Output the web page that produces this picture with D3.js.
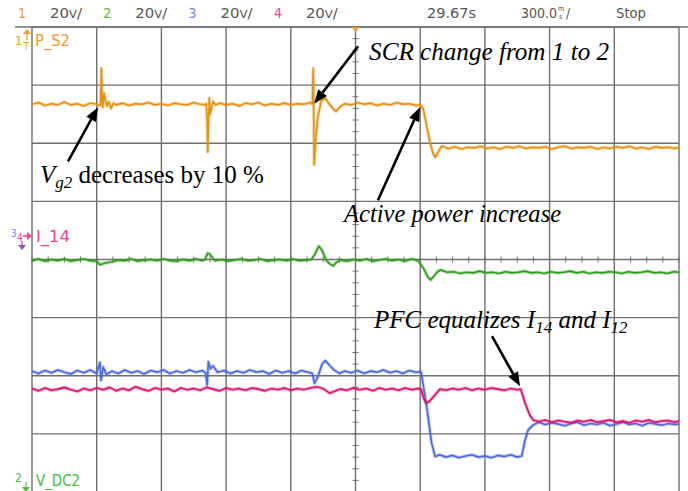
<!DOCTYPE html>
<html>
<head>
<meta charset="utf-8">
<script src="https://cdn.jsdelivr.net/npm/d3@7"></script>
<style>
  html, body { margin: 0; padding: 0; background: #fff; }
  svg { display: block; }
</style>
</head>
<body>
<div id="chart"></div>
<script>
// ---- Scope settings -------------------------------------------------------
const channelNumbers = ["1", "2", "3", "4"];
const channelScales  = ["20", "20", "20", "20"];       // V/div
const timeDivMs      = 300;                              // 300.0 ms/div
const triggerTimeLabel = "29.67s";
const runState       = "Stop";
const xDivisions     = 10;
const yDivisions     = 8;

// ---- Traces: [time ms, vertical position in divisions] ---------------------
// Channel 1, P_S2 (orange)
const pS2 = [
  [0,2.67],[30,2.70],[60,2.65],[90,2.68],[120,2.66],[150,2.71],[180,2.66],[210,2.68],[240,2.64],[270,2.69],
  [300,2.67],[310,2.65],[318,2.66],[322,3.29],[325,2.80],[328,2.62],[334,2.86],[340,2.74],[348,2.64],[356,2.72],
  [366,2.60],[378,2.69],[390,2.66],[420,2.69],[450,2.65],[480,2.68],[510,2.67],[540,2.70],[570,2.66],[600,2.68],
  [630,2.65],[660,2.69],[690,2.67],[720,2.66],[750,2.70],[780,2.67],[800,2.66],[808,2.68],[812,2.40],[815,1.85],
  [818,2.30],[822,2.78],[826,2.50],[832,2.60],[840,2.72],[850,2.66],[870,2.69],[900,2.66],[930,2.68],[960,2.64],
  [990,2.69],[1020,2.67],[1050,2.70],[1080,2.65],[1110,2.68],[1140,2.66],[1170,2.69],[1200,2.66],[1230,2.68],[1260,2.67],
  [1290,2.70],[1300,2.67],[1304,3.29],[1306,2.67],[1308,1.63],[1315,2.05],[1325,2.45],[1340,2.72],[1360,2.78],[1375,2.69],
  [1395,2.60],[1410,2.55],[1430,2.63],[1450,2.68],[1480,2.66],[1510,2.70],[1540,2.67],[1570,2.69],[1600,2.65],[1630,2.68],
  [1660,2.66],[1690,2.70],[1720,2.67],[1750,2.68],[1780,2.65],[1800,2.67],[1815,2.58],[1830,2.30],[1845,2.02],[1860,1.82],
  [1870,1.76],[1885,1.86],[1900,1.95],[1930,1.91],[1960,1.94],[1990,1.90],[2020,1.93],[2050,1.92],[2080,1.95],[2110,1.91],
  [2140,1.93],[2170,1.90],[2200,1.94],[2230,1.92],[2260,1.95],[2290,1.91],[2320,1.93],[2350,1.92],[2380,1.94],[2410,1.90],
  [2440,1.93],[2470,1.95],[2500,1.91],[2530,1.93],[2560,1.92],[2590,1.94],[2620,1.90],[2650,1.93],[2680,1.91],[2710,1.94],
  [2740,1.92],[2770,1.95],[2800,1.91],[2830,1.93],[2860,1.90],[2890,1.94],[2920,1.92],[2950,1.93],[2980,1.91],[3000,1.93]
];

// Channel 2, V_DC2 (green)
const vDc2 = [
  [0,-0.02],[30,0.01],[60,-0.03],[90,0.00],[120,-0.02],[150,0.01],[180,-0.03],[210,-0.01],[240,0.01],[270,-0.02],
  [300,-0.03],[315,-0.09],[340,-0.06],[371,-0.04],[400,-0.01],[430,-0.02],[460,0.01],[490,-0.03],[520,-0.01],[550,0.00],
  [580,-0.02],[610,0.01],[640,-0.02],[670,-0.03],[700,0.00],[730,-0.02],[760,0.01],[790,-0.02],[802,0.00],[815,0.11],
  [825,0.09],[835,0.04],[849,-0.02],[880,0.00],[910,-0.03],[940,-0.01],[970,0.01],[1000,-0.02],[1030,-0.01],[1060,0.01],
  [1090,-0.03],[1120,-0.01],[1150,0.00],[1180,-0.02],[1210,0.01],[1240,-0.02],[1270,-0.01],[1295,0.00],[1310,0.08],[1330,0.23],
  [1345,0.16],[1363,-0.01],[1380,-0.07],[1396,-0.11],[1412,-0.05],[1430,-0.01],[1460,-0.03],[1490,0.00],[1520,-0.02],[1550,0.01],
  [1580,-0.03],[1610,-0.01],[1640,0.01],[1670,-0.02],[1700,0.00],[1730,-0.03],[1760,0.01],[1790,-0.02],[1815,-0.15],[1835,-0.30],
  [1849,-0.35],[1865,-0.28],[1880,-0.21],[1895,-0.18],[1925,-0.22],[1955,-0.21],[1985,-0.24],[2015,-0.22],[2045,-0.23],[2075,-0.20],
  [2105,-0.23],[2135,-0.22],[2165,-0.24],[2195,-0.21],[2225,-0.23],[2255,-0.22],[2285,-0.20],[2315,-0.23],[2345,-0.22],[2375,-0.24],
  [2405,-0.21],[2435,-0.23],[2465,-0.22],[2495,-0.20],[2525,-0.23],[2555,-0.21],[2585,-0.24],[2615,-0.22],[2645,-0.23],[2675,-0.21],
  [2705,-0.22],[2735,-0.24],[2765,-0.21],[2795,-0.23],[2825,-0.22],[2855,-0.20],[2885,-0.23],[2915,-0.22],[2945,-0.24],[2975,-0.21],
  [3000,-0.22]
];

// Channel 3, I_12 (blue)
const i12 = [
  [0,-1.92],[30,-1.96],[60,-1.91],[90,-1.95],[120,-1.90],[150,-1.94],[180,-1.97],[210,-1.91],[240,-1.95],[270,-1.90],
  [300,-1.96],[315,-1.77],[320,-2.08],[330,-1.85],[345,-1.98],[370,-1.92],[400,-1.96],[430,-1.90],[460,-1.95],[490,-1.92],
  [520,-1.97],[550,-1.91],[580,-1.94],[610,-1.90],[640,-1.96],[670,-1.92],[700,-1.95],[730,-1.90],[760,-1.94],[790,-1.91],
  [805,-1.95],[812,-2.16],[818,-1.76],[828,-1.88],[840,-1.83],[860,-1.94],[890,-1.91],[920,-1.96],[950,-1.92],[980,-1.95],
  [1010,-1.90],[1040,-1.94],[1070,-1.92],[1100,-1.97],[1130,-1.91],[1160,-1.95],[1190,-1.92],[1220,-1.96],[1250,-1.91],[1280,-1.94],
  [1300,-1.96],[1310,-2.13],[1325,-2.02],[1345,-1.80],[1360,-1.74],[1380,-1.82],[1400,-1.90],[1425,-1.96],[1450,-1.92],[1480,-1.95],
  [1510,-1.91],[1540,-1.96],[1570,-1.92],[1600,-1.94],[1630,-1.90],[1660,-1.95],[1690,-1.92],[1720,-1.96],[1750,-1.91],[1780,-1.94],
  [1804,-1.93],[1830,-2.53],[1853,-3.16],[1869,-3.39],[1890,-3.36],[1920,-3.40],[1950,-3.37],[1980,-3.41],[2010,-3.38],[2040,-3.36],
  [2070,-3.40],[2100,-3.38],[2130,-3.41],[2160,-3.37],[2190,-3.39],[2220,-3.36],[2250,-3.40],[2271,-3.38],[2286,-3.11],[2301,-2.93],
  [2323,-2.85],[2350,-2.80],[2380,-2.84],[2410,-2.81],[2440,-2.83],[2470,-2.86],[2500,-2.82],[2530,-2.80],[2560,-2.85],[2590,-2.82],
  [2620,-2.84],[2650,-2.81],[2680,-2.86],[2710,-2.83],[2740,-2.80],[2770,-2.84],[2800,-2.82],[2830,-2.86],[2860,-2.81],[2890,-2.83],
  [2920,-2.85],[2950,-2.82],[2980,-2.84],[3000,-2.83]
];

// Channel 4, I_14 (pink)
const i14 = [
  [0,-2.22],[30,-2.26],[60,-2.21],[90,-2.25],[120,-2.23],[150,-2.20],[180,-2.24],[210,-2.27],[240,-2.22],[270,-2.25],
  [300,-2.21],[330,-2.24],[360,-2.20],[390,-2.26],[420,-2.22],[450,-2.25],[480,-2.19],[510,-2.23],[540,-2.26],[570,-2.21],
  [600,-2.24],[630,-2.22],[660,-2.27],[690,-2.21],[720,-2.24],[750,-2.22],[780,-2.25],[810,-2.20],[840,-2.23],[870,-2.26],
  [900,-2.21],[930,-2.24],[960,-2.22],[990,-2.25],[1020,-2.21],[1050,-2.23],[1080,-2.26],[1110,-2.22],[1140,-2.24],[1170,-2.21],
  [1200,-2.25],[1230,-2.22],[1260,-2.24],[1290,-2.21],[1320,-2.19],[1350,-2.22],[1380,-2.30],[1400,-2.27],[1430,-2.23],[1460,-2.25],
  [1490,-2.21],[1520,-2.24],[1550,-2.22],[1580,-2.26],[1610,-2.21],[1640,-2.24],[1670,-2.22],[1700,-2.25],[1730,-2.21],[1760,-2.24],
  [1790,-2.22],[1804,-2.23],[1815,-2.38],[1827,-2.47],[1840,-2.45],[1855,-2.39],[1875,-2.30],[1892,-2.23],[1920,-2.25],[1950,-2.22],
  [1980,-2.24],[2010,-2.21],[2040,-2.25],[2070,-2.22],[2100,-2.24],[2130,-2.21],[2160,-2.23],[2190,-2.25],[2220,-2.22],[2250,-2.24],
  [2266,-2.23],[2286,-2.47],[2309,-2.68],[2323,-2.76],[2350,-2.79],[2380,-2.76],[2410,-2.80],[2440,-2.77],[2470,-2.79],[2500,-2.81],
  [2530,-2.77],[2560,-2.79],[2590,-2.76],[2620,-2.80],[2650,-2.78],[2680,-2.76],[2710,-2.80],[2740,-2.78],[2770,-2.81],[2800,-2.77],
  [2830,-2.79],[2860,-2.76],[2890,-2.80],[2920,-2.78],[2950,-2.77],[2980,-2.80],[3000,-2.78]
];

// Annotations: arrow tip/tail and text anchor in [ms, div]
const annotations = [
  { tip: [306, 2.62],  tail: [167, 1.69],  text: [37, 1.32]    },
  { tip: [1308, 2.68], tail: [1512, 3.67], text: [1563, 3.43]  },
  { tip: [1799, 2.62], tail: [1604, 1.02], text: [1447, 0.645] },
  { tip: [2263, -2.18], tail: [2133, -1.32], text: [1586, -1.18] }
];

// ---- Layout -----------------------------------------------------------------
const W = 688, H = 491;
const plot = { left: 32, right: 679, top: 27, bottom: 492 };

const x = d3.scaleLinear().domain([0, timeDivMs * xDivisions]).range([plot.left, plot.right]);
const y = d3.scaleLinear().domain([-yDivisions / 2, yDivisions / 2]).range([plot.bottom, plot.top]);

const svg = d3.select("#chart").append("svg")
  .attr("width", W).attr("height", H)
  .attr("viewBox", `0 0 ${W} ${H}`);

svg.append("rect").attr("width", W).attr("height", H).attr("fill", "#fff");

const gridColor = "#6f6f6f";

// ---- Graticule --------------------------------------------------------------
const grid = svg.append("g");
grid.selectAll("line.v")
  .data(d3.range(0, xDivisions + 1).map(i => i * timeDivMs))
  .join("line")
  .attr("x1", d => x(d)).attr("x2", d => x(d))
  .attr("y1", plot.top).attr("y2", H)
  .attr("stroke", gridColor).attr("stroke-width", 1.4);

grid.selectAll("line.h")
  .data(d3.range(-yDivisions / 2, yDivisions / 2 + 1))
  .join("line")
  .attr("x1", plot.left).attr("x2", plot.right)
  .attr("y1", d => y(d)).attr("y2", d => y(d))
  .attr("stroke", gridColor).attr("stroke-width", 1.4);

// header separator reaches past the graticule on both sides
grid.append("line")
  .attr("x1", 15).attr("x2", W)
  .attr("y1", plot.top).attr("y2", plot.top)
  .attr("stroke", gridColor).attr("stroke-width", 1.4);

// minor ticks on the centre cross
const centreT = timeDivMs * xDivisions / 2;
grid.selectAll("line.ty")
  .data(d3.range(-yDivisions / 2 * 5, yDivisions / 2 * 5 + 1).map(k => k / 5))
  .join("line")
  .attr("x1", x(centreT) - 3).attr("x2", x(centreT) + 3)
  .attr("y1", d => y(d)).attr("y2", d => y(d))
  .attr("stroke", gridColor).attr("stroke-width", 1);
grid.selectAll("line.tx")
  .data(d3.range(0, xDivisions * 4 + 1).map(k => k * timeDivMs / 4))
  .join("line")
  .attr("x1", d => x(d)).attr("x2", d => x(d))
  .attr("y1", y(0) - 3).attr("y2", y(0) + 3)
  .attr("stroke", gridColor).attr("stroke-width", 1);

// ---- Traces -----------------------------------------------------------------
const line = d3.line().x(d => x(d[0])).y(d => y(d[1]));
const traces = [
  { data: pS2,  color: "#e8900f" },
  { data: vDc2, color: "#2f9e1c" },
  { data: i12,  color: "#4a68e2" },
  { data: i14,  color: "#e2106c" }
];
const tg = svg.append("g");
traces.forEach(t => {
  tg.append("path").attr("d", line(t.data))
    .attr("fill", "none").attr("stroke", t.color)
    .attr("stroke-width", 3.4).attr("stroke-opacity", 0.35)
    .attr("stroke-linejoin", "round");
  tg.append("path").attr("d", line(t.data))
    .attr("fill", "none").attr("stroke", t.color)
    .attr("stroke-width", 1.6).attr("stroke-linejoin", "round");
});

// ---- Header -----------------------------------------------------------------
const hdrFont = "'Liberation Sans Narrow','DejaVu Sans Condensed','Arial Narrow','Liberation Sans',sans-serif";
const chColors = ["#f29a2e", "#4cbc3a", "#6f86f0", "#f0409a"];
const hdr = svg.append("g").attr("font-family", hdrFont).attr("font-size", 14);
channelNumbers.forEach((c, i) => {
  const x0 = 15 + i * 85.3;
  hdr.append("text").attr("x", x0 + 3).attr("y", 18).attr("fill", chColors[i]).text(c);
  const t = hdr.append("text").attr("x", x0 + 35).attr("y", 18).attr("fill", "#555")
    .attr("textLength", 32).attr("lengthAdjust", "spacingAndGlyphs");
  t.append("tspan").text(channelScales[i]);
  t.append("tspan").attr("font-size", 11).text("V");
  t.append("tspan").text("/");
});
hdr.append("text").attr("x", 427).attr("y", 18).attr("fill", "#555")
  .attr("textLength", 49).attr("lengthAdjust", "spacingAndGlyphs").text(triggerTimeLabel);
// time base: value, stacked "m" over "s", slash
hdr.append("text").attr("x", 521).attr("y", 18).attr("fill", "#555")
  .attr("textLength", 36).attr("lengthAdjust", "spacingAndGlyphs")
  .text(d3.format(".1f")(timeDivMs));
hdr.append("text").attr("x", 558).attr("y", 11).attr("font-size", 7).attr("fill", "#555").text("m");
hdr.append("text").attr("x", 559).attr("y", 19).attr("font-size", 7).attr("fill", "#555").text("s");
hdr.append("text").attr("x", 566).attr("y", 18).attr("fill", "#555").text("/");
hdr.append("text").attr("x", 616).attr("y", 18).attr("fill", "#555")
  .attr("textLength", 30).attr("lengthAdjust", "spacingAndGlyphs").text(runState);

// ---- Channel markers & names ---------------------------------------------------
const mk = svg.append("g").attr("font-family", hdrFont);
// channel 1
mk.append("text").attr("x", 15).attr("y", 45).attr("font-size", 13).attr("fill", chColors[0]).text("1");
mk.append("path").attr("d", "M23,34 L27,29 L31,34 Z").attr("fill", chColors[0]);
mk.append("line").attr("x1", 27).attr("x2", 27).attr("y1", 34).attr("y2", 40).attr("stroke", chColors[0]).attr("stroke-width", 1.2);
mk.append("text").attr("x", 23.5).attr("y", 50).attr("font-size", 10).attr("fill", chColors[0]).text("T");
mk.append("text").attr("x", 35).attr("y", 46).attr("font-size", 15).attr("fill", chColors[0])
  .attr("textLength", 35).attr("lengthAdjust", "spacingAndGlyphs").text("P_S2");
// trigger marker on top edge
mk.append("path").attr("d", `M${x(centreT) - 4},${plot.top} L${x(centreT) + 4},${plot.top} L${x(centreT)},${plot.top + 5} Z`).attr("fill", chColors[0]);
// channels 3 & 4 share one ground level
mk.append("text").attr("x", 11).attr("y", 237).attr("font-size", 10).attr("fill", chColors[2]).text("3");
mk.append("text").attr("x", 17).attr("y", 241).attr("font-size", 10).attr("fill", chColors[3]).text("4");
mk.append("line").attr("x1", 23).attr("x2", 28).attr("y1", 236).attr("y2", 236).attr("stroke", chColors[3]).attr("stroke-width", 1.5);
mk.append("path").attr("d", "M27,232 L32,236 L27,240 Z").attr("fill", chColors[3]);
mk.append("line").attr("x1", 22).attr("x2", 22).attr("y1", 241).attr("y2", 245).attr("stroke", "#a04cc0").attr("stroke-width", 1.2);
mk.append("path").attr("d", "M18,245 L26,245 L22,250 Z").attr("fill", "#a04cc0");
mk.append("text").attr("x", 36).attr("y", 242).attr("font-size", 15).attr("fill", chColors[3])
  .attr("textLength", 34).attr("lengthAdjust", "spacingAndGlyphs").text("I_14");
// channel 2
mk.append("text").attr("x", 15).attr("y", 482).attr("font-size", 12).attr("fill", chColors[1]).text("2");
mk.append("line").attr("x1", 26).attr("x2", 26).attr("y1", 482).attr("y2", 488).attr("stroke", chColors[1]).attr("stroke-width", 1.2);
mk.append("path").attr("d", "M22,487 L30,487 L26,492 Z").attr("fill", chColors[1]);
mk.append("text").attr("x", 36).attr("y", 486).attr("font-size", 15).attr("fill", chColors[1])
  .attr("textLength", 44).attr("lengthAdjust", "spacingAndGlyphs").text("V_DC2");

// ---- Annotations --------------------------------------------------------------
const ann = svg.append("g");
annotations.forEach(a => {
  const tx = x(a.tip[0]), ty = y(a.tip[1]);
  const sx = x(a.tail[0]), sy = y(a.tail[1]);
  const ang = Math.atan2(ty - sy, tx - sx);
  const L = 14, hw = 5.5;
  const bx = tx - L * Math.cos(ang), by = ty - L * Math.sin(ang);
  ann.append("line").attr("x1", sx).attr("y1", sy).attr("x2", bx).attr("y2", by)
    .attr("stroke", "#000").attr("stroke-width", 2.6);
  const p1 = [bx + hw * Math.sin(ang), by - hw * Math.cos(ang)];
  const p2 = [bx - hw * Math.sin(ang), by + hw * Math.cos(ang)];
  ann.append("path").attr("d", `M${tx},${ty} L${p1[0]},${p1[1]} L${p2[0]},${p2[1]} Z`).attr("fill", "#000");
});

const serif = "'Liberation Serif','Times New Roman',serif";
const t0 = ann.append("text").attr("x", x(annotations[0].text[0])).attr("y", y(annotations[0].text[1]))
  .attr("font-family", serif).attr("font-size", 25).attr("fill", "#000");
t0.append("tspan").attr("font-style", "italic").text("V");
t0.append("tspan").attr("font-style", "italic").attr("font-size", 17).attr("dy", 5).text("g2");
t0.append("tspan").attr("dy", -5).text(" decreases by 10 %");

ann.append("text").attr("x", x(annotations[1].text[0])).attr("y", y(annotations[1].text[1]))
  .attr("font-family", serif).attr("font-size", 25).attr("font-style", "italic")
  .attr("textLength", 240).attr("lengthAdjust", "spacingAndGlyphs")
  .text("SCR change from 1 to 2");

ann.append("text").attr("x", x(annotations[2].text[0])).attr("y", y(annotations[2].text[1]))
  .attr("font-family", serif).attr("font-size", 25).attr("font-style", "italic")
  .attr("textLength", 217).attr("lengthAdjust", "spacingAndGlyphs")
  .text("Active power increase");

const t3 = ann.append("text").attr("x", x(annotations[3].text[0])).attr("y", y(annotations[3].text[1]))
  .attr("font-family", serif).attr("font-size", 25).attr("font-style", "italic").attr("fill", "#000");
t3.append("tspan").text("PFC equalizes I");
t3.append("tspan").attr("font-size", 17).attr("dy", 5).text("14");
t3.append("tspan").attr("dy", -5).text(" and I");
t3.append("tspan").attr("font-size", 17).attr("dy", 5).text("12");
</script>
</body>
</html>
